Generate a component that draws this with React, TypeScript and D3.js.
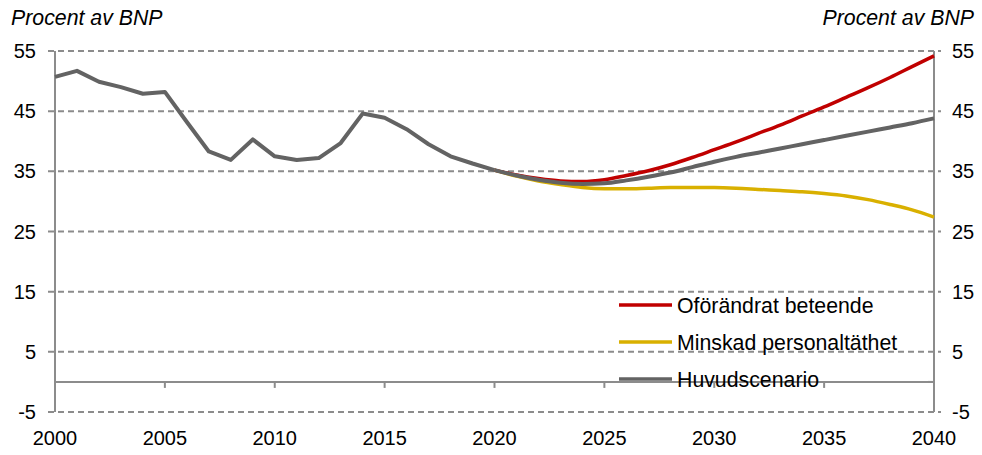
import React, { useEffect, useRef } from 'react';
import * as d3 from 'd3';

// historical, 2000-2020
const histYears = d3.range(2000, 2021);
const histValues = [50.7, 51.7, 49.9, 49.0, 47.9, 48.2, 43.2, 38.3, 36.9, 40.3, 37.5, 36.9, 37.2, 39.7, 44.6, 43.9, 42.0, 39.5, 37.5, 36.3, 35.2];

// projections, 2020-2040
const projYears = d3.range(2020, 2041);
const redValues = [35.2, 34.4, 33.8, 33.4, 33.3, 33.6, 34.3, 35.1, 36.1, 37.3, 38.6, 39.9, 41.3, 42.7, 44.2, 45.7, 47.3, 48.9, 50.6, 52.4, 54.2];
const yellowValues = [35.2, 34.2, 33.4, 32.8, 32.3, 32.1, 32.1, 32.2, 32.3, 32.3, 32.3, 32.2, 32.0, 31.8, 31.6, 31.3, 30.9, 30.3, 29.5, 28.6, 27.4];
const grayValues = [35.2, 34.3, 33.6, 33.1, 32.9, 33.0, 33.5, 34.1, 34.8, 35.7, 36.6, 37.4, 38.1, 38.8, 39.5, 40.2, 40.9, 41.6, 42.3, 43.0, 43.8];

const yTicks = [55, 45, 35, 25, 15, 5, -5];
const xTicks = [2000, 2005, 2010, 2015, 2020, 2025, 2030, 2035, 2040];

const legendItems = [
    { label: 'Oförändrat beteende', color: '#c00000' },
    { label: 'Minskad personaltäthet', color: '#d9b000' },
    { label: 'Huvudscenario', color: '#636363' },
];

const yLabel = 'Procent av BNP';

export default function App() {
    const ref = useRef<SVGSVGElement>(null);

    useEffect(() => {
        const svg = d3.select(ref.current);
        svg.selectAll('*').remove();

        const left = 55, right = 934, top = 51, bottom = 412;
        const font = 'Liberation Sans, Arial, sans-serif';

        const x = d3.scaleLinear().domain([2000, 2040]).range([left, right]);
        const y = d3.scaleLinear().domain([-5, 55]).range([bottom, top]);

        // dashed grid
        svg.append('g')
            .selectAll('line')
            .data(yTicks)
            .join('line')
            .attr('x1', left - 7)
            .attr('x2', right + 7)
            .attr('y1', d => y(d))
            .attr('y2', d => y(d))
            .attr('stroke', '#8c8c8c')
            .attr('stroke-width', 2)
            .attr('stroke-dasharray', '6,4');

        // zero line with year ticks
        svg.append('line')
            .attr('x1', left).attr('x2', right)
            .attr('y1', y(0)).attr('y2', y(0))
            .attr('stroke', '#8c8c8c').attr('stroke-width', 2);
        svg.append('g')
            .selectAll('line')
            .data(xTicks.slice(1, -1))
            .join('line')
            .attr('x1', d => x(d)).attr('x2', d => x(d))
            .attr('y1', y(0)).attr('y2', y(0) + 6)
            .attr('stroke', '#8c8c8c').attr('stroke-width', 2);
        svg.append('line')
            .attr('x1', right - 6).attr('x2', right)
            .attr('y1', y(0)).attr('y2', y(0))
            .attr('stroke', '#8c8c8c').attr('stroke-width', 2);

        // vertical axes
        [left, right].forEach(px => {
            svg.append('line')
                .attr('x1', px).attr('x2', px)
                .attr('y1', top).attr('y2', bottom)
                .attr('stroke', '#8c8c8c').attr('stroke-width', 2);
        });

        // tick labels
        svg.append('g')
            .selectAll('text')
            .data(yTicks)
            .join('text')
            .attr('x', 36)
            .attr('y', d => y(d) + 7)
            .attr('text-anchor', 'end')
            .attr('font-family', font)
            .attr('font-size', 20)
            .attr('fill', '#000')
            .text(d => d);
        svg.append('g')
            .selectAll('text')
            .data(yTicks)
            .join('text')
            .attr('x', 952)
            .attr('y', d => y(d) + 7)
            .attr('text-anchor', 'start')
            .attr('font-family', font)
            .attr('font-size', 20)
            .attr('fill', '#000')
            .text(d => d);
        svg.append('g')
            .selectAll('text')
            .data(xTicks)
            .join('text')
            .attr('x', d => x(d))
            .attr('y', 445)
            .attr('text-anchor', 'middle')
            .attr('font-family', font)
            .attr('font-size', 20)
            .attr('fill', '#000')
            .text(d => d);

        // axis titles
        svg.append('text')
            .attr('x', 11).attr('y', 25)
            .attr('font-family', font).attr('font-size', 21.3)
            .attr('font-style', 'italic')
            .text(yLabel);
        svg.append('text')
            .attr('x', 974).attr('y', 25)
            .attr('text-anchor', 'end')
            .attr('font-family', font).attr('font-size', 21.3)
            .attr('font-style', 'italic')
            .text(yLabel);

        // lines
        const straight = d3.line<number>()
            .x((d, i) => x(histYears[i]))
            .y(d => y(d));
        const smooth = d3.line<number>()
            .x((d, i) => x(projYears[i]))
            .y(d => y(d))
            .curve(d3.curveMonotoneX);

        svg.append('path')
            .datum(yellowValues)
            .attr('fill', 'none')
            .attr('stroke', legendItems[1].color)
            .attr('stroke-width', 3.5)
            .attr('d', smooth);
        svg.append('path')
            .datum(redValues)
            .attr('fill', 'none')
            .attr('stroke', legendItems[0].color)
            .attr('stroke-width', 3.5)
            .attr('d', smooth);
        svg.append('path')
            .datum(grayValues)
            .attr('fill', 'none')
            .attr('stroke', legendItems[2].color)
            .attr('stroke-width', 4)
            .attr('d', smooth);
        svg.append('path')
            .datum(histValues)
            .attr('fill', 'none')
            .attr('stroke', legendItems[2].color)
            .attr('stroke-width', 4)
            .attr('stroke-linejoin', 'round')
            .attr('d', straight);

        // legend
        const legend = svg.append('g');
        legendItems.forEach((item, i) => {
            const ly = 305 + i * 37;
            legend.append('line')
                .attr('x1', 619).attr('x2', 672)
                .attr('y1', ly).attr('y2', ly)
                .attr('stroke', item.color)
                .attr('stroke-width', 3.5);
            legend.append('text')
                .attr('x', 677).attr('y', ly + 7.5)
                .attr('font-family', font)
                .attr('font-size', 21.3)
                .attr('fill', '#000')
                .text(item.label);
        });
    }, []);

    return (
        <div style={{ position: 'absolute', left: 0, top: 0 }}>
            <svg ref={ref} width={982} height={455}></svg>
        </div>
    );
}
